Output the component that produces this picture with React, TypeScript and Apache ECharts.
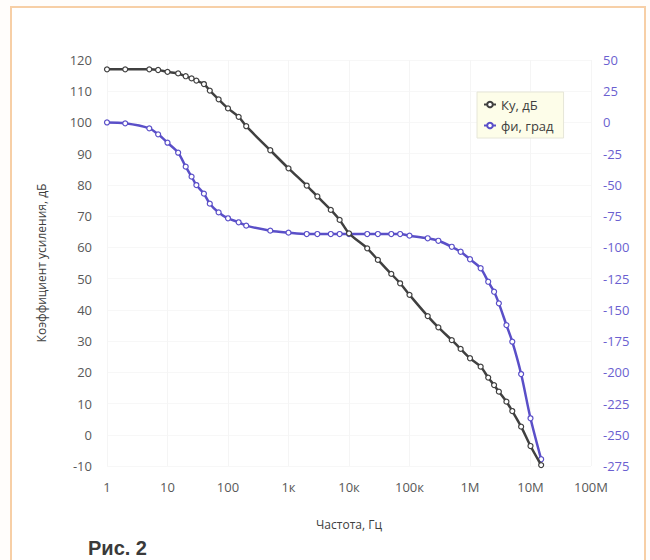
import React, { useEffect, useRef } from "react";
import * as echarts from "echarts";

const freqs = [1, 2, 5, 7, 10, 15, 20, 25, 30, 40, 50, 70, 100, 150, 200, 500, 1e3, 2e3, 3e3, 5e3, 7e3, 1e4, 2e4, 3e4, 5e4, 7e4, 1e5, 2e5, 3e5, 5e5, 7e5, 1e6, 1.5e6, 2e6, 2.5e6, 3e6, 4e6, 5e6, 7e6, 1e7, 1.5e7];
const gainDb = [117, 117, 117, 116.8, 116.2, 115.7, 114.8, 114.1, 113.4, 112.3, 110.2, 107.4, 104.5, 101.8, 98.8, 91.1, 85.3, 79.8, 76.3, 72.0, 68.8, 64.5, 59.7, 56.0, 51.5, 48.5, 44.8, 38.0, 34.4, 30.3, 27.5, 24.5, 21.8, 18.3, 15.9, 13.8, 10.6, 7.6, 2.6, -3.6, -9.7];
const phaseDeg = [0, -0.7, -4.7, -9.5, -16.2, -24.2, -35.4, -43.4, -50.1, -57, -65, -72, -76.7, -79.9, -82.6, -86.6, -88.2, -89.3, -89.3, -89.3, -89.3, -89.3, -89.3, -89.3, -89.3, -89.3, -90.6, -92.7, -94.7, -99.5, -103.5, -109.5, -116.7, -127.5, -135.5, -144.8, -162.2, -175.5, -201.4, -236.8, -269.6];
const xTickLabels: Record<number, string> = { 0: "1", 1: "10", 2: "100", 3: "1к", 4: "10к", 5: "100к", 6: "1M", 7: "10M", 8: "100M" };
const seriesNames = ["Ку, дБ", "фи, град"];

const FONT = "'Open Sans', 'Noto Sans', sans-serif";

export default function App() {
  const ref = useRef<HTMLDivElement>(null);
  useEffect(() => {
    if (!ref.current) return;
    const chart = echarts.init(ref.current, null, { renderer: "svg" });
    const gainData = freqs.map((f, i) => [f, gainDb[i]]);
    const phaseData = freqs.map((f, i) => [f, phaseDeg[i]]);
    chart.setOption({
      animation: false,
      backgroundColor: "#fffdfb",
      textStyle: { fontFamily: FONT },
      graphic: [
        {
          type: "rect",
          shape: { x: 11, y: 7, width: 634, height: 600 },
          style: { fill: "#ffffff", stroke: "#f7cfa6", lineWidth: 2 },
          z: -10,
        },
        {
          type: "text",
          left: 88,
          top: 538,
          style: { text: "Рис. 2", font: "bold 20px 'Liberation Sans', Arial, sans-serif", fill: "#3a3a3a" },
        },
      ],
      legend: {
        left: 477,
        top: 92,
        orient: "vertical",
        backgroundColor: "#fdfde9",
        borderColor: "#e6e6d8",
        borderWidth: 1,
        padding: [6, 10, 6, 6],
        itemGap: 8,
        itemWidth: 12,
        itemHeight: 7,
        textStyle: { fontFamily: FONT, fontSize: 13, color: "#404040" },
        data: seriesNames,
      },
      grid: { left: 107, right: 59, top: 60, bottom: 94 },
      xAxis: {
        type: "log",
        logBase: 10,
        min: 1,
        max: 1e8,
        name: "Частота, Гц",
        nameLocation: "middle",
        nameGap: 52,
        nameTextStyle: { fontFamily: FONT, fontSize: 12, color: "#404040" },
        axisLine: { show: false },
        axisTick: { show: false },
        axisLabel: {
          margin: 14,
          fontFamily: FONT,
          fontSize: 13,
          color: "#595959",
          formatter: (v: number) => xTickLabels[Math.round(Math.log10(v))] ?? "",
        },
        splitLine: { show: true, lineStyle: { color: "#f5f5f5" } },
      },
      yAxis: [
        {
          type: "value",
          min: -10,
          max: 120,
          interval: 10,
          name: "Коэффициент усиления, дБ",
          nameLocation: "middle",
          nameGap: 60,
          nameRotate: 90,
          nameTextStyle: { fontFamily: FONT, fontSize: 12, color: "#404040" },
          axisLine: { show: false },
          axisTick: { show: false },
          axisLabel: { margin: 15, fontFamily: FONT, fontSize: 13, color: "#595959" },
          splitLine: { show: true, lineStyle: { color: "#f7f7f7" } },
        },
        {
          type: "value",
          min: -275,
          max: 50,
          interval: 25,
          position: "right",
          axisLine: { show: false },
          axisTick: { show: false },
          axisLabel: { margin: 12, fontFamily: FONT, fontSize: 13, color: "#6b5fd0" },
          splitLine: { show: false },
        },
      ],
      series: [
        {
          name: seriesNames[0],
          type: "line",
          yAxisIndex: 0,
          data: gainData,
          smooth: 0.3,
          symbol: "circle",
          symbolSize: 5,
          lineStyle: { color: "#404040", width: 2.5 },
          itemStyle: { color: "#ffffff", borderColor: "#404040", borderWidth: 1.2 },
          z: 3,
        },
        {
          name: seriesNames[1],
          type: "line",
          yAxisIndex: 1,
          data: phaseData,
          smooth: 0.3,
          symbol: "circle",
          symbolSize: 5,
          lineStyle: { color: "#5a4fc8", width: 2.5 },
          itemStyle: { color: "#ffffff", borderColor: "#5a4fc8", borderWidth: 1.2 },
          z: 2,
        },
      ],
    });
    return () => chart.dispose();
  }, []);
  return <div ref={ref} style={{ position: "fixed", left: 0, top: 0, width: 650, height: 560 }} />;
}
